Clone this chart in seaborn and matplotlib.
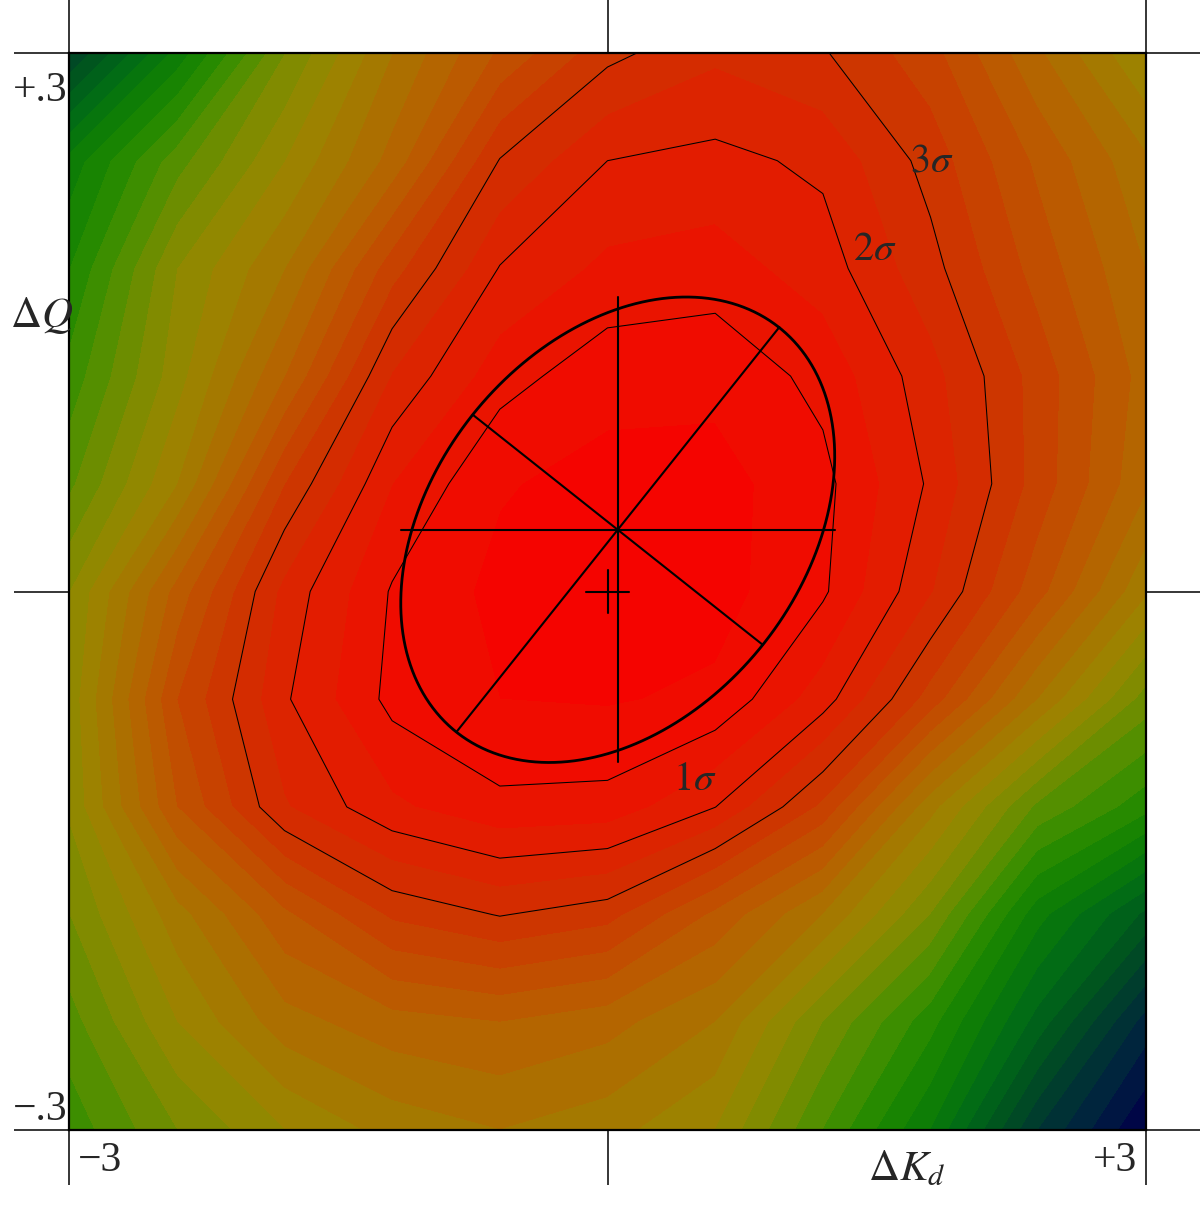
import numpy as np
import matplotlib
matplotlib.use("Agg")
import matplotlib.pyplot as plt
import seaborn as sns

# ── data: goodness-of-fit map (in sigma) on a coarse grid ──────────────────
kd_nodes = [-3.0, -2.4, -1.8, -1.2, -0.6, 0.0, 0.6, 1.2, 1.8, 2.4, 3.0]
q_nodes = [0.30, 0.24, 0.18, 0.12, 0.06, 0.00, -0.06, -0.12, -0.18, -0.24, -0.30]
sigma_map = [
    [13.5, 10.8, 8.0, 6.0, 4.4, 3.15, 2.6, 2.95, 3.8, 5.4, 7.0],
    [10.8, 8.7, 7.0, 5.3, 2.97, 2.0, 1.85, 2.11, 3.2, 4.6, 5.9],
    [10.0, 7.5, 6.0, 3.7, 1.97, 1.37, 1.25, 1.75, 2.82, 4.2, 5.5],
    [9.3, 7.2, 5.0, 2.45, 1.2, 0.7, 0.65, 1.15, 2.31, 3.7, 5.2],
    [8.6, 6.5, 3.5, 1.5, 0.55, 0.3, 0.3, 0.85, 2.08, 3.7, 5.4],
    [7.5, 4.8, 2.33, 0.95, 0.35, 0.12, 0.3, 0.92, 2.45, 4.3, 6.4],
    [7.3, 4.0, 2.07, 0.85, 0.5, 0.45, 0.6, 1.76, 3.7, 6.0, 8.2],
    [7.4, 4.5, 2.55, 1.6, 1.12, 1.18, 1.99, 3.6, 6.3, 8.6, 9.8],
    [8.0, 6.2, 4.6, 3.4, 2.97, 3.3, 4.6, 6.0, 8.0, 10.8, 12.6],
    [8.7, 7.0, 5.7, 5.2, 5.0, 5.3, 6.0, 8.0, 9.8, 12.2, 14.7],
    [9.3, 8.0, 7.0, 6.3, 6.0, 6.3, 7.0, 9.0, 11.0, 14.0, 16.0],
]

sigma_levels = [1, 2, 3]
sigma_names = [r"$1\sigma$", r"$2\sigma$", r"$3\sigma$"]
sigma_label_kd = [0.367, 1.369, 1.685]
sigma_label_q = [-0.1105, 0.1848, 0.234]

# fitted error ellipse: centre and two conjugate semi-axes (data units)
ell_center = (0.057, 0.0344)
ell_major = (0.899, 0.1127)
ell_minor = (-0.808, 0.0641)

# nominal point
nominal = (0.0, 0.0)
nominal_half = (0.118, 0.0118)

# colour ramp, one colour per sigma step 0..16
band_colors = [
    "#f80000", "#ee1000", "#e02000", "#d03000", "#c44800", "#b86000",
    "#a87400", "#9a8600", "#7a8c00", "#4a9000", "#1e8800", "#0a7a08",
    "#006818", "#005020", "#003830", "#002040", "#000048",
]

# ── style ──────────────────────────────────────────────────────────────────
sns.set_style("white")
plt.rcParams["font.family"] = ["Liberation Serif", "DejaVu Serif"]
plt.rcParams["mathtext.fontset"] = "stix"

fig = plt.figure(figsize=(12, 12.22), dpi=100)
ax = fig.add_axes([69 / 1200, 92 / 1222, 1077 / 1200, 1077 / 1222])

cmap = sns.blend_palette(band_colors, as_cmap=True)
X, Y = np.meshgrid(kd_nodes, q_nodes)
Z = np.array(sigma_map)

ax.contourf(X, Y, Z, levels=np.arange(0, 16.51, 0.5), cmap=cmap,
            vmin=0, vmax=16)
ax.contour(X, Y, Z, levels=sigma_levels, colors="black", linewidths=0.75)

for name, xk, yq in zip(sigma_names, sigma_label_kd, sigma_label_q):
    ax.text(xk, yq, name, fontsize=29, ha="left", va="baseline")

# ── error ellipse with its axes and bounding cross ─────────────────────────
cx, cy = ell_center
t = np.linspace(0, 2 * np.pi, 400)
ex = cx + ell_major[0] * np.cos(t) + ell_minor[0] * np.sin(t)
ey = cy + ell_major[1] * np.cos(t) + ell_minor[1] * np.sin(t)
ax.plot(ex, ey, color="black", lw=2.0)

for vx, vy in (ell_major, ell_minor):
    ax.plot([cx - vx, cx + vx], [cy - vy, cy + vy], color="black", lw=1.5)

half_w = np.hypot(ell_major[0], ell_minor[0])
half_h = np.hypot(ell_major[1], ell_minor[1])
ax.plot([cx - half_w, cx + half_w], [cy, cy], color="black", lw=1.5)
ax.plot([cx, cx], [cy - half_h, cy + half_h], color="black", lw=1.5)

nx, ny = nominal
ax.plot([nx - nominal_half[0], nx + nominal_half[0]], [ny, ny],
        color="black", lw=1.5)
ax.plot([nx, nx], [ny - nominal_half[1], ny + nominal_half[1]],
        color="black", lw=1.5)

# ── frame, long outside ticks, corner labels ──────────────────────────────
ax.set_xlim(-3, 3)
ax.set_ylim(-0.3, 0.3)
ax.set_xticks([-3, 0, 3])
ax.set_yticks([-0.3, 0, 0.3])
ax.tick_params(direction="out", length=39.5, width=1.1, color="black",
               bottom=True, top=True, left=True, right=True,
               labelbottom=False, labelleft=False)
for sp in ax.spines.values():
    sp.set_linewidth(1.6)
    sp.set_color("black")

ax.text(-3.011, 0.273, "+.3", fontsize=30, ha="right", va="baseline",
        clip_on=False)
ax.text(-3.011, -0.2943, "\u2212.3", fontsize=30, ha="right", va="baseline",
        clip_on=False)
ax.text(-2.95, -0.3231, "\u22123", fontsize=30, ha="left", va="baseline",
        clip_on=False)
ax.text(2.95, -0.3231, "+3", fontsize=30, ha="right", va="baseline",
        clip_on=False)
ax.text(-3.329, 0.1476, r"$\Delta Q$", fontsize=31, ha="left",
        va="baseline", clip_on=False)
ax.text(1.451, -0.3279, r"$\Delta K_d$", fontsize=31, ha="left",
        va="baseline", clip_on=False)

fig.savefig("out.png", dpi=100)
